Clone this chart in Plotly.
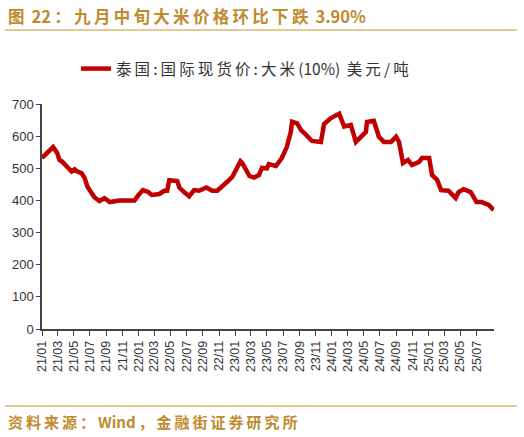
import plotly.graph_objects as go

# Thai rice 10% broken, spot price, USD/ton
dates = [
    "2021-01-01", "2021-01-12", "2021-02-01", "2021-02-12", "2021-02-27", "2021-03-08",
    "2021-03-19", "2021-04-08", "2021-04-23", "2021-05-04", "2021-05-15", "2021-05-30",
    "2021-06-11", "2021-06-22", "2021-07-07", "2021-07-18", "2021-08-06", "2021-08-25",
    "2021-09-14", "2021-10-02", "2021-10-21", "2021-11-17", "2021-12-17", "2021-12-28",
    "2022-01-17", "2022-02-05", "2022-02-20", "2022-03-20", "2022-04-08", "2022-04-19",
    "2022-04-27", "2022-05-27", "2022-06-04", "2022-06-22", "2022-07-11", "2022-07-30",
    "2022-08-18", "2022-09-14", "2022-10-06", "2022-10-25", "2022-11-10", "2022-12-02",
    "2022-12-21", "2023-01-10", "2023-01-21", "2023-01-28", "2023-02-13", "2023-02-24",
    "2023-03-13", "2023-04-01", "2023-04-12", "2023-05-01", "2023-05-08", "2023-06-04",
    "2023-06-26", "2023-07-15", "2023-07-30", "2023-08-04", "2023-08-23", "2023-09-07",
    "2023-09-26", "2023-10-18", "2023-11-21", "2023-12-03", "2023-12-29", "2024-01-21",
    "2024-01-29", "2024-02-17", "2024-03-13", "2024-04-01", "2024-04-24", "2024-05-09",
    "2024-05-13", "2024-06-08", "2024-06-27", "2024-07-16", "2024-08-12", "2024-08-31",
    "2024-09-11", "2024-09-26", "2024-10-15", "2024-10-30", "2024-11-26", "2024-12-07",
    "2025-01-03", "2025-01-14", "2025-02-02", "2025-02-17", "2025-03-17", "2025-04-13",
    "2025-04-24", "2025-05-13", "2025-06-09", "2025-07-01", "2025-07-20", "2025-08-16",
    "2025-09-04",
]
prices = [
    532, 541, 560, 566, 548, 526,
    520, 500, 490, 497, 490, 485,
    470, 442, 425, 410, 398, 407,
    395, 398, 400, 400, 400, 413,
    432, 427, 417, 420, 430, 430,
    463, 460, 440, 426, 413, 432,
    430, 440, 430, 430, 440, 458,
    473, 504, 522, 516, 495, 476,
    471, 479, 501, 500, 513, 507,
    532, 566, 613, 645, 640, 619,
    604, 585, 582, 638, 656, 665,
    670, 630, 635, 582, 604, 613,
    644, 648, 598, 582, 582, 598,
    582, 516, 526, 510, 520, 532,
    532, 479, 464, 432, 430, 407,
    426, 435, 426, 395, 395, 386,
    370,
]

tick_dates = [
    "2021-01-01", "2021-03-01", "2021-05-01", "2021-07-01", "2021-09-01", "2021-11-01",
    "2022-01-01", "2022-03-01", "2022-05-01", "2022-07-01", "2022-09-01", "2022-11-01",
    "2023-01-01", "2023-03-01", "2023-05-01", "2023-07-01", "2023-09-01", "2023-11-01",
    "2024-01-01", "2024-03-01", "2024-05-01", "2024-07-01", "2024-09-01", "2024-11-01",
    "2025-01-01", "2025-03-01", "2025-05-01", "2025-07-01",
]
tick_labels = [
    "21/01", "21/03", "21/05", "21/07", "21/09", "21/11",
    "22/01", "22/03", "22/05", "22/07", "22/09", "22/11",
    "23/01", "23/03", "23/05", "23/07", "23/09", "23/11",
    "24/01", "24/03", "24/05", "24/07", "24/09", "24/11",
    "25/01", "25/03", "25/05", "25/07",
]

series_name = "泰国:国际现货价:大米(10%) 美元/吨"
title_text = "图 22：九月中旬大米价格环比下跌 3.90%"
source_text = "资料来源：Wind，金融街证券研究所"

GOLD = "#C08A2E"
GOLD_LINE = "#DDB873"
AXIS = "#444444"
CJK = "Noto Sans CJK SC, sans-serif"
FONT = "Liberation Sans, Noto Sans CJK SC, sans-serif"


def spaced(s):
    # loose letter spacing around CJK glyphs, latin runs stay tight
    out = s[0]
    for a, b in zip(s, s[1:]):
        if ord(a) > 127 or ord(b) > 127:
            out += "\u2009"
        out += b
    return out


# plot area in pixels: x 42..494, y 104..329
def px(x):
    return (x - 42) / 452


def py(y):
    return (329 - y) / 225


fig = go.Figure()
fig.add_trace(go.Scatter(
    x=dates, y=prices, mode="lines", name=spaced(series_name),
    line=dict(color="#C00000", width=4.5),
))

fig.update_layout(
    width=524, height=437,
    margin=dict(l=42, r=30, t=104, b=108),
    paper_bgcolor="white", plot_bgcolor="white",
    font=dict(family=FONT, size=11, color="#333333"),
    showlegend=True,
    legend=dict(
        orientation="h", x=px(76), xanchor="left", y=py(69), yanchor="middle",
        font=dict(size=15.5, color="#333333", family=CJK),
        bgcolor="rgba(0,0,0,0)",
    ),
    xaxis=dict(
        type="date", range=["2021-01-01", "2025-09-05"],
        tickvals=tick_dates, ticktext=tick_labels, tickangle=-90,
        showgrid=False, showline=True, linecolor=AXIS, linewidth=1.5,
        ticks="outside", ticklen=5, tickcolor=AXIS,
        tickfont=dict(size=12.5, color="#333333"),
        zeroline=False,
    ),
    yaxis=dict(
        range=[0, 700], dtick=100,
        showgrid=False, showline=True, linecolor=AXIS, linewidth=1.5,
        ticks="outside", ticklen=4, tickcolor=AXIS,
        tickfont=dict(size=13, color="#333333"),
        zeroline=False,
    ),
)

# header / footer rules
fig.add_shape(type="line", xref="paper", yref="paper",
              x0=px(5), x1=px(517), y0=py(30), y1=py(30),
              line=dict(color=GOLD_LINE, width=1.5))
fig.add_shape(type="line", xref="paper", yref="paper",
              x0=px(5), x1=px(517), y0=py(406), y1=py(406),
              line=dict(color=GOLD_LINE, width=1.5))

fig.add_annotation(
    text=f"<b>{spaced(title_text)}</b>", xref="paper", yref="paper",
    x=px(6), y=py(16), xanchor="left", yanchor="middle", showarrow=False,
    font=dict(size=16.5, color=GOLD, family=CJK),
)
fig.add_annotation(
    text=f"<b>{spaced(source_text)}</b>", xref="paper", yref="paper",
    x=px(6), y=py(421), xanchor="left", yanchor="middle", showarrow=False,
    font=dict(size=15, color=GOLD, family=CJK),
)

fig.write_html("out.html", config={"displayModeBar": False},
               post_script="document.body.style.margin='0';")
